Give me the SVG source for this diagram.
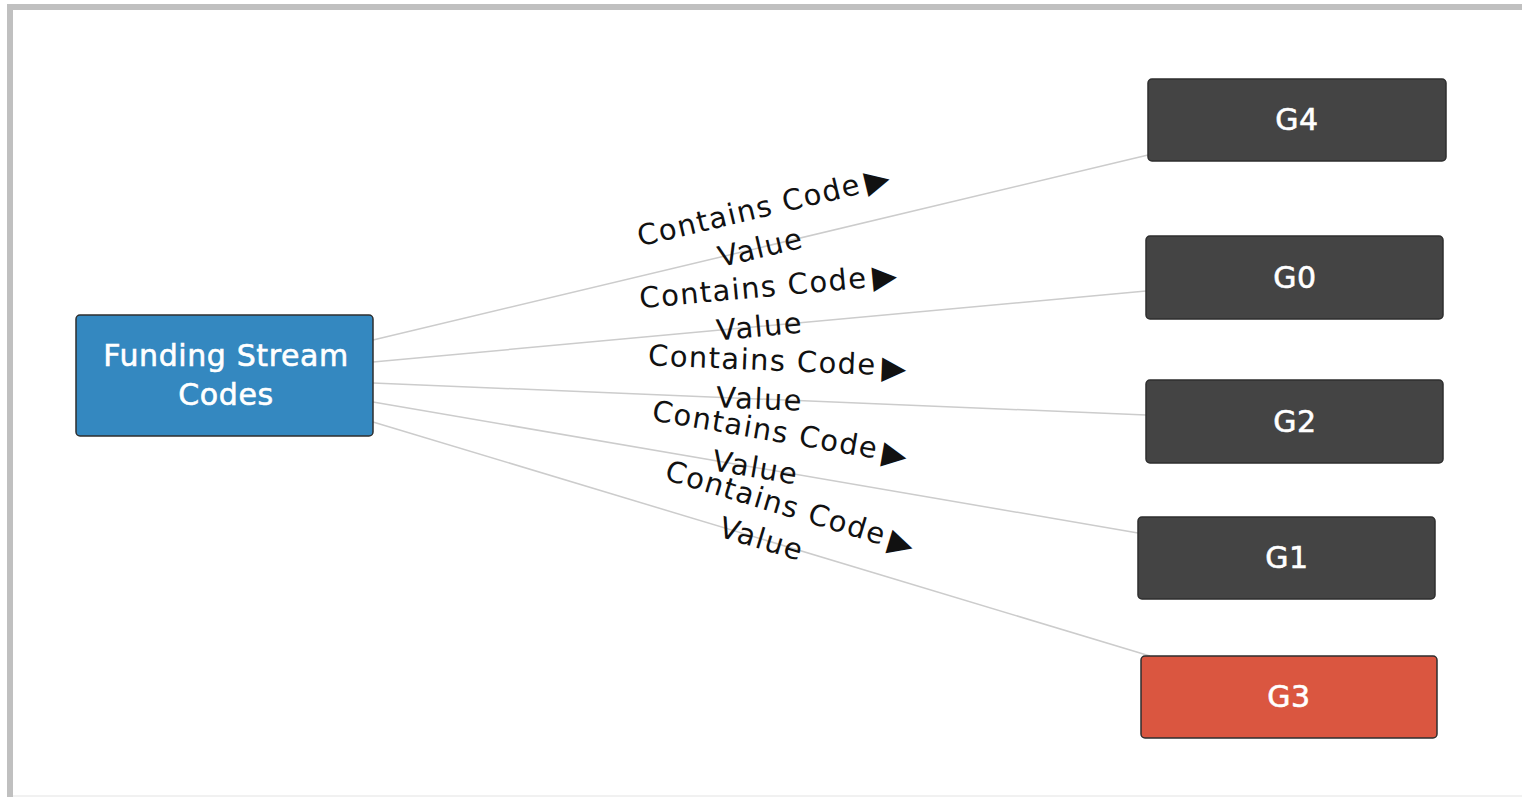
<svg xmlns="http://www.w3.org/2000/svg" width="1522" height="797" viewBox="0 0 1522 797">
<style>
.frame{fill:none;stroke:#c0c0c0;stroke-width:6}
.node rect{stroke:#2e2e2e;stroke-width:1.5}
.dark{fill:#444444}
.blue{fill:#3488c0}
.red{fill:#da5640}
.nt{font-family:"DejaVu Sans","Liberation Sans",sans-serif;font-size:30px;fill:#ffffff;stroke:#ffffff;stroke-width:0.6;letter-spacing:0.6px;text-anchor:middle}
.edge{stroke:#cccccc;stroke-width:1.5;fill:none}
.lbl{font-family:"DejaVu Sans","Liberation Sans",sans-serif;font-size:29px;fill:#111111;letter-spacing:1.4px}
.arr{font-size:32px;letter-spacing:0}
</style>
<rect x="0" y="0" width="1522" height="797" fill="#ffffff"/>
<path class="frame" d="M10 797 V7 H1522"/>
<line x1="13" y1="796" x2="1522" y2="796" stroke="#ececec" stroke-width="1.5"/>
<g id="connectors">
  <line class="edge" x1="373" y1="340" x2="1148" y2="155"/>
  <line class="edge" x1="373" y1="362" x2="1146" y2="291"/>
  <line class="edge" x1="373" y1="383" x2="1146" y2="415"/>
  <line class="edge" x1="373" y1="402" x2="1138" y2="533"/>
  <line class="edge" x1="373" y1="422" x2="1150" y2="656"/>
  <g transform="translate(760.5 247.5) rotate(-13.43)">
    <text class="lbl" x="-117" y="-29">Contains Code<tspan class="arr" dx="5" dy="1">▶</tspan></text>
    <text class="lbl" x="0" y="10" text-anchor="middle">Value</text>
  </g>
  <g transform="translate(759.5 326.5) rotate(-5.25)">
    <text class="lbl" x="-117" y="-29">Contains Code<tspan class="arr" dx="5" dy="1">▶</tspan></text>
    <text class="lbl" x="0" y="10" text-anchor="middle">Value</text>
  </g>
  <g transform="translate(759.5 399) rotate(2.37)">
    <text class="lbl" x="-113" y="-29">Contains Code<tspan class="arr" dx="5" dy="3">▶</tspan></text>
    <text class="lbl" x="0" y="10" text-anchor="middle">Value</text>
  </g>
  <g transform="translate(755.5 467.5) rotate(9.72)">
    <text class="lbl" x="-111" y="-29">Contains Code<tspan class="arr" dx="5" dy="3">▶</tspan></text>
    <text class="lbl" x="0" y="10" text-anchor="middle">Value</text>
  </g>
  <g transform="translate(761.5 539) rotate(16.76)">
    <text class="lbl" x="-111" y="-29">Contains Code<tspan class="arr" dx="5" dy="3">▶</tspan></text>
    <text class="lbl" x="0" y="10" text-anchor="middle">Value</text>
  </g>
</g>
<g id="node-funding" class="node">
  <rect class="blue" x="76" y="315" width="297" height="121" rx="4"/>
  <text class="nt" x="226" y="366">Funding Stream</text>
  <text class="nt" x="226" y="405">Codes</text>
</g>
<g id="node-g4" class="node">
  <rect class="dark" x="1148" y="79" width="298" height="82" rx="4"/>
  <text class="nt" x="1297" y="130">G4</text>
</g>
<g id="node-g0" class="node">
  <rect class="dark" x="1146" y="236" width="297" height="83" rx="4"/>
  <text class="nt" x="1295" y="288">G0</text>
</g>
<g id="node-g2" class="node">
  <rect class="dark" x="1146" y="380" width="297" height="83" rx="4"/>
  <text class="nt" x="1295" y="432">G2</text>
</g>
<g id="node-g1" class="node">
  <rect class="dark" x="1138" y="517" width="297" height="82" rx="4"/>
  <text class="nt" x="1287" y="568">G1</text>
</g>
<g id="node-g3" class="node">
  <rect class="red" x="1141" y="656" width="296" height="82" rx="4"/>
  <text class="nt" x="1289" y="707">G3</text>
</g>
</svg>
